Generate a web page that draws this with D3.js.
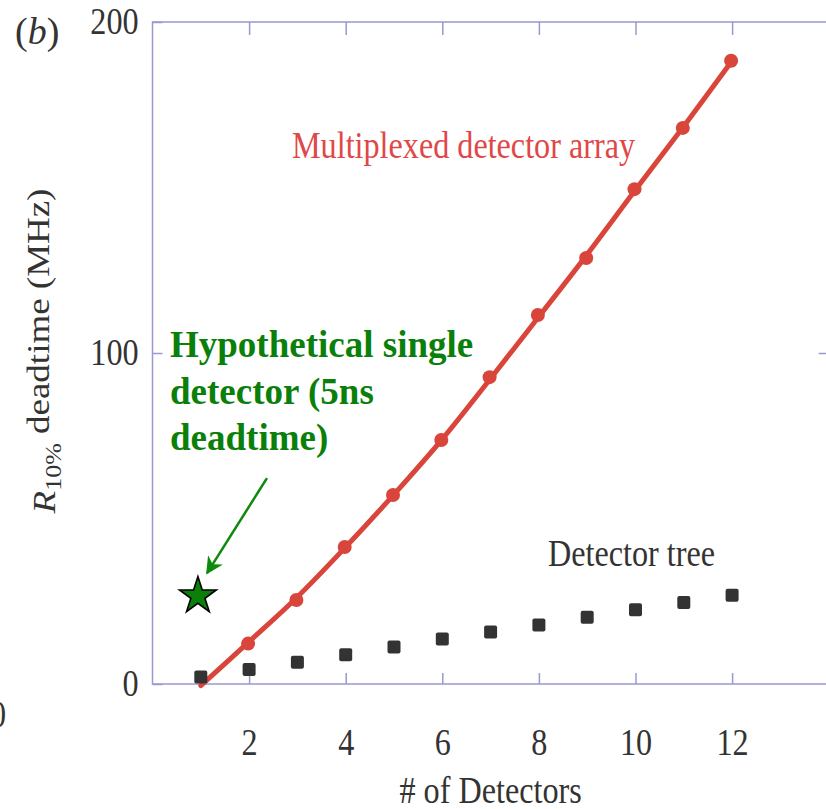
<!DOCTYPE html>
<html>
<head>
<meta charset="utf-8">
<script src="https://cdn.jsdelivr.net/npm/d3@7"></script>
<style>
  html, body { margin: 0; padding: 0; background: #fff; }
  svg { display: block; }
</style>
</head>
<body>
<svg id="chart" width="826" height="809"></svg>
<script>
// ---- data ----
const detectors = [1, 2, 3, 4, 5, 6, 7, 8, 9, 10, 11, 12];
const multiplexedPoints = [null, 12.2, 25.4, 41.4, 57.1, 73.7, 92.7, 111.5, 128.7, 149.5, 168.0, 188.3];
const multiplexedFit = [-0.5, 12.8, 26.3, 41.4, 57.3, 74.0, 92.3, 111.0, 129.8, 149.3, 168.5, 188.3];
const treeValues = [2.1, 4.4, 6.6, 8.8, 11.2, 13.6, 15.7, 17.8, 20.2, 22.4, 24.6, 26.8];
const xTicks = [2, 4, 6, 8, 10, 12];
const yTicks = [0, 100, 200];
const star = { x: 0.94, y: 26.6 };
const arrow = { x1: 2.37, y1: 62.2, x2: 1.13, y2: 33.5 };
const annotationLines = ["Hypothetical single", "detector (5ns", "deadtime)"];

// ---- layout ----
const svg = d3.select("#chart");
const x = d3.scaleLinear().domain([0, 14]).range([152.5, 828.7]);
const y = d3.scaleLinear().domain([0, 200]).range([684, 22]);
const frameColor = "#9898d2";
const serif = "'Liberation Serif', 'Times New Roman', serif";
const sq = 0.87; // horizontal squeeze of the original raster

// frame
svg.append("rect")
  .attr("x", x(0)).attr("y", y(200))
  .attr("width", x(14) - x(0)).attr("height", y(0) - y(200))
  .attr("fill", "none").attr("stroke", frameColor).attr("stroke-width", 1.5);

function styleAxis(g) {
  g.select(".domain").remove();
  g.selectAll(".tick line").attr("stroke", frameColor).attr("stroke-width", 1.5);
  g.selectAll("text")
    .attr("fill", "#333")
    .style("font-family", serif)
    .style("font-size", "37px");
}

// bottom axis
const gx = svg.append("g").attr("transform", `translate(0,${y(0)})`)
  .call(d3.axisBottom(x).tickValues(xTicks).tickSize(-11).tickPadding(38).tickFormat(d3.format("d")));
styleAxis(gx);
gx.selectAll("text").attr("transform", `scale(${sq},1)`).attr("dy", null).attr("y", 71);

// top axis (ticks only)
const gt = svg.append("g").attr("transform", `translate(0,${y(200)})`)
  .call(d3.axisTop(x).tickValues(xTicks).tickSize(-13).tickFormat(""));
styleAxis(gt);

// left axis
const gy = svg.append("g").attr("transform", `translate(${x(0)},0)`)
  .call(d3.axisLeft(y).tickValues(yTicks).tickSize(-10).tickPadding(16).tickFormat(d3.format("d")));
styleAxis(gy);
gy.selectAll("text").attr("transform", `scale(${sq},1)`);

// right axis (ticks only)
const gr = svg.append("g").attr("transform", `translate(${x(14)},0)`)
  .call(d3.axisRight(y).tickValues([100]).tickSize(-10).tickFormat(""));
styleAxis(gr);

// clipped label fragment from the neighbouring panel at the left edge
svg.append("text")
  .attr("transform", `translate(6,727) scale(${sq},1)`)
  .attr("text-anchor", "end")
  .attr("fill", "#333")
  .style("font-family", serif).style("font-size", "37px")
  .text("0");

// axis titles
svg.append("text")
  .attr("transform", `translate(${(x(0) + x(14)) / 2},803) scale(${sq},1)`)
  .attr("text-anchor", "middle")
  .attr("fill", "#333")
  .style("font-family", serif).style("font-size", "37px")
  .text("# of Detectors");

const yTitle = svg.append("text")
  .attr("transform", `translate(55,${(y(0) + y(200)) / 2 - 2}) rotate(-90) scale(1,${sq})`)
  .attr("text-anchor", "middle")
  .attr("fill", "#333")
  .style("font-family", serif).style("font-size", "37px");
yTitle.append("tspan").style("font-style", "italic").text("R");
yTitle.append("tspan").attr("dy", "0.25em").style("font-size", "26px").text("10%");
yTitle.append("tspan").attr("dy", "-0.35em").text(" deadtime (MHz)");

// panel label
const pl = svg.append("text")
  .attr("x", 15).attr("y", 44)
  .attr("fill", "#333")
  .style("font-family", serif).style("font-size", "38px");
pl.append("tspan").text("(");
pl.append("tspan").style("font-style", "italic").text("b");
pl.append("tspan").text(")");

// multiplexed fit line
const line = d3.line()
  .x((d, i) => x(detectors[i]))
  .y(d => y(d))
  .curve(d3.curveCatmullRom.alpha(0.5));
svg.append("path")
  .datum(multiplexedFit)
  .attr("d", line)
  .attr("fill", "none")
  .attr("stroke", "#d9453a")
  .attr("stroke-width", 5)
  .attr("stroke-linecap", "round");

// multiplexed points
svg.selectAll("circle.mp")
  .data(detectors.map((d, i) => ({ n: d, v: multiplexedPoints[i] })).filter(d => d.v !== null))
  .join("circle")
  .attr("class", "mp")
  .attr("cx", d => x(d.n) - 1)
  .attr("cy", d => y(d.v))
  .attr("r", 7)
  .attr("fill", "#d9453a");

// detector tree squares
const s = 13;
svg.selectAll("rect.tree")
  .data(detectors.map((d, i) => ({ n: d, v: treeValues[i] })))
  .join("rect")
  .attr("class", "tree")
  .attr("x", d => x(d.n) - s / 2)
  .attr("y", d => y(d.v) - s / 2)
  .attr("width", s).attr("height", s)
  .attr("rx", 2).attr("ry", 2)
  .attr("fill", "#333");

// labels
svg.append("text")
  .attr("transform", `translate(292,158) scale(${sq},1)`)
  .attr("fill", "#e04848")
  .style("font-family", serif).style("font-size", "37px")
  .text("Multiplexed detector array");

svg.append("text")
  .attr("transform", `translate(548,566) scale(${sq},1)`)
  .attr("fill", "#333")
  .style("font-family", serif).style("font-size", "37px")
  .text("Detector tree");

// hypothetical annotation
const defs = svg.append("defs");
defs.append("marker")
  .attr("id", "ah")
  .attr("viewBox", "0 0 10 10")
  .attr("refX", 9).attr("refY", 5)
  .attr("markerWidth", 7).attr("markerHeight", 7)
  .attr("markerUnits", "strokeWidth")
  .attr("orient", "auto")
  .append("path")
  .attr("d", "M0,0 L10,5 L0,10 L3,5 Z")
  .attr("fill", "#0b8a0b");

svg.append("line")
  .attr("x1", x(arrow.x1)).attr("y1", y(arrow.y1))
  .attr("x2", x(arrow.x2)).attr("y2", y(arrow.y2))
  .attr("stroke", "#0b8a0b").attr("stroke-width", 2.5)
  .attr("marker-end", "url(#ah)");

svg.append("path")
  .attr("transform", `translate(${x(star.x)},${y(star.y)})`)
  .attr("d", d3.symbol().type(d3.symbolStar).size(420)())
  .attr("fill", "#0a800a")
  .attr("stroke", "#000")
  .attr("stroke-width", 1.6);

svg.selectAll("text.ann")
  .data(annotationLines)
  .join("text")
  .attr("class", "ann")
  .attr("x", 170)
  .attr("y", (d, i) => 357 + i * 46.5)
  .attr("fill", "#0a800a")
  .style("font-family", serif).style("font-size", "37px").style("font-weight", "bold")
  .text(d => d);
</script>
</body>
</html>
